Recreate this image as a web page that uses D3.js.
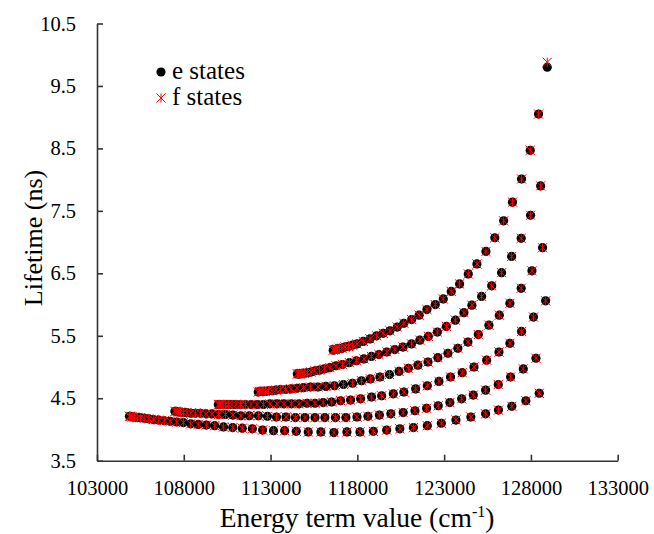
<!DOCTYPE html>
<html>
<head>
<meta charset="utf-8">
<script src="https://cdn.jsdelivr.net/npm/d3@7"></script>
<style>
    body { margin: 0; background: #fff; }
    svg { display: block; font-family: "Liberation Serif", "Times New Roman", Times, "DejaVu Serif", serif; }
</style>
</head>
<body>
<script>
// Data: energy term value (cm-1) and lifetime (ns), one pair of arrays per band
const band1Energy = [104870, 104940, 105030, 105160, 105320, 105510, 105720, 105980, 106250, 106550, 106880, 107220, 107590, 107980, 108400, 108830, 109300, 109780, 110290, 110820, 111370, 111950, 112540, 113170, 113810, 114480, 115170, 115900, 116650, 117400, 118150, 118920, 119690, 120450, 121230, 122030, 122840, 123680, 124540, 125390, 126130, 126900, 127710, 128480]
const band1Lifetime = [4.21, 4.21, 4.20, 4.20, 4.19, 4.19, 4.18, 4.17, 4.16, 4.15, 4.14, 4.13, 4.12, 4.11, 4.09, 4.08, 4.07, 4.06, 4.04, 4.03, 4.02, 4.01, 3.99, 3.98, 3.98, 3.97, 3.96, 3.96, 3.95, 3.96, 3.96, 3.97, 3.99, 4.01, 4.03, 4.06, 4.10, 4.15, 4.20, 4.25, 4.31, 4.37, 4.46, 4.58]

const band2Energy = [107490, 107560, 107670, 107810, 107980, 108180, 108410, 108670, 108960, 109280, 109620, 110000, 110400, 110830, 111290, 111780, 112300, 112820, 113340, 113890, 114430, 114980, 115560, 116130, 116740, 117340, 117980, 118610, 119270, 119930, 120640, 121320, 121990, 122660, 123330, 124010, 124680, 125390, 126120, 126830, 127560, 128290]
const band2Lifetime = [4.29, 4.29, 4.28, 4.28, 4.27, 4.27, 4.26, 4.26, 4.26, 4.25, 4.25, 4.24, 4.24, 4.23, 4.22, 4.22, 4.22, 4.21, 4.20, 4.20, 4.19, 4.19, 4.19, 4.19, 4.19, 4.19, 4.20, 4.21, 4.23, 4.25, 4.27, 4.30, 4.34, 4.38, 4.43, 4.49, 4.55, 4.63, 4.72, 4.84, 4.97, 5.14]

const band3Energy = [109990, 110060, 110140, 110260, 110400, 110570, 110780, 111010, 111270, 111550, 111870, 112220, 112590, 112960, 113370, 113770, 114200, 114640, 115100, 115560, 116030, 116520, 117040, 117610, 118190, 118820, 119400, 120070, 120680, 121360, 122030, 122700, 123370, 124040, 124720, 125450, 126160, 126790, 127460, 128150, 128850]
const band3Lifetime = [4.40, 4.40, 4.40, 4.40, 4.40, 4.40, 4.40, 4.40, 4.40, 4.40, 4.40, 4.40, 4.40, 4.41, 4.41, 4.41, 4.41, 4.41, 4.42, 4.42, 4.43, 4.44, 4.46, 4.47, 4.49, 4.52, 4.54, 4.57, 4.60, 4.65, 4.70, 4.77, 4.84, 4.91, 5.00, 5.11, 5.24, 5.38, 5.57, 5.80, 6.06]

const band4Energy = [112290, 112360, 112450, 112560, 112710, 112880, 113080, 113310, 113570, 113860, 114170, 114520, 114890, 115300, 115730, 116190, 116680, 117200, 117720, 118240, 118750, 119300, 119850, 120400, 120940, 121490, 122070, 122640, 123220, 123790, 124370, 124970, 125580, 126180, 126790, 127440, 128060, 128670]
const band4Lifetime = [4.60, 4.61, 4.61, 4.61, 4.61, 4.62, 4.62, 4.63, 4.64, 4.64, 4.65, 4.66, 4.67, 4.68, 4.68, 4.69, 4.70, 4.72, 4.74, 4.78, 4.81, 4.84, 4.88, 4.93, 4.98, 5.03, 5.08, 5.15, 5.22, 5.30, 5.40, 5.52, 5.67, 5.83, 6.02, 6.26, 6.54, 6.91]

const band5Energy = [114540, 114610, 114690, 114810, 114950, 115120, 115330, 115560, 115820, 116100, 116420, 116770, 117140, 117540, 117950, 118380, 118810, 119240, 119700, 120160, 120630, 121120, 121600, 122090, 122610, 123130, 123650, 124140, 124600, 125160, 125740, 126310, 126890, 127440, 127980, 128560]
const band5Lifetime = [4.89, 4.89, 4.89, 4.90, 4.90, 4.91, 4.92, 4.94, 4.95, 4.97, 4.99, 5.02, 5.04, 5.07, 5.10, 5.13, 5.17, 5.20, 5.24, 5.28, 5.32, 5.37, 5.43, 5.49, 5.56, 5.65, 5.75, 5.87, 5.99, 6.13, 6.30, 6.51, 6.77, 7.06, 7.43, 7.90]

const band6Energy = [116610, 116670, 116740, 116840, 116960, 117110, 117290, 117490, 117720, 117980, 118340, 118730, 119110, 119490, 119880, 120300, 120680, 121130, 121560, 122010, 122490, 122950, 123410, 123890, 124390, 124890, 125410, 125920, 126430, 126940, 127460, 127960, 128440, 128940]
const band6Lifetime = [5.27, 5.28, 5.28, 5.29, 5.30, 5.30, 5.32, 5.33, 5.35, 5.37, 5.41, 5.45, 5.50, 5.54, 5.58, 5.64, 5.70, 5.76, 5.83, 5.92, 6.00, 6.09, 6.21, 6.33, 6.49, 6.65, 6.85, 7.07, 7.34, 7.64, 8.01, 8.47, 9.05, 9.80]

// f states coincide with e states except these (band, index, lifetime)
const fStateDifferences = [[6, 33, 9.88]]

const xTicks = [103000, 108000, 113000, 118000, 123000, 128000, 133000]
const yTicks = [3.5, 4.5, 5.5, 6.5, 7.5, 8.5, 9.5, 10.5]
const legendLabels = ['e states', 'f states']

const bands = [
    [band1Energy, band1Lifetime],
    [band2Energy, band2Lifetime],
    [band3Energy, band3Lifetime],
    [band4Energy, band4Lifetime],
    [band5Energy, band5Lifetime],
    [band6Energy, band6Lifetime]
]
const eStates = bands.flatMap(([energies, lifetimes], b) =>
    energies.map((energy, i) => ({ band: b + 1, index: i, energy, lifetime: lifetimes[i] })))
const fStates = eStates.map(d => {
    const diff = fStateDifferences.find(([band, index]) => band === d.band && index === d.index)
    return diff ? { ...d, lifetime: diff[2] } : d
})

// SVG Node
const width = 654
const height = 534
const svg = d3.select('body').append('svg')
    .attr('width', width)
    .attr('height', height)

// Presentation
const serif = '"Liberation Serif", "Times New Roman", Times, "DejaVu Serif", serif'
const axisColor = '#333'
const plot = { left: 97, right: 617.7, top: 23.5, bottom: 460.7 }
const markerRadius = 4.6
const starSize = 4.6
const starPath = `M${-starSize},${-starSize}L${starSize},${starSize}M${-starSize},${starSize}L${starSize},${-starSize}M0,${-starSize}L0,${starSize}`

// Scale
const x = d3.scaleLinear()
    .domain([xTicks[0], xTicks[xTicks.length - 1]])
    .range([plot.left, plot.right])
const y = d3.scaleLinear()
    .domain([yTicks[0], yTicks[yTicks.length - 1]])
    .range([plot.bottom, plot.top])

// Axis
const xAxis = d3.axisBottom(x)
    .tickValues(xTicks)
    .tickFormat(d3.format('d'))
    .tickSizeInner(-6)
    .tickSizeOuter(0)
    .tickPadding(20)
const yAxis = d3.axisLeft(y)
    .tickValues(yTicks)
    .tickFormat(d3.format('.1f'))
    .tickSizeInner(-6)
    .tickSizeOuter(0)
    .tickPadding(21)

const styleAxis = g => {
    g.attr('font-family', serif).attr('font-size', 20.5)
    g.select('.domain').attr('stroke', axisColor).attr('stroke-width', 1.6)
    g.selectAll('.tick line').attr('stroke', axisColor).attr('stroke-width', 1.6)
    g.selectAll('.tick text').attr('fill', '#000')
}

svg.append('g')
    .attr('transform', `translate(0, ${plot.bottom})`)
    .call(xAxis)
    .call(styleAxis)
svg.append('g')
    .attr('transform', `translate(${plot.left}, 0)`)
    .call(yAxis)
    .call(styleAxis)

// Axis titles
const xTitle = svg.append('text')
    .attr('x', 357)
    .attr('y', 527)
    .attr('text-anchor', 'middle')
    .attr('font-family', serif)
    .attr('font-size', 27.5)
xTitle.append('tspan').text('Energy term value (cm')
xTitle.append('tspan').attr('dy', -10).attr('font-size', 16).text('-1')
xTitle.append('tspan').attr('dy', 10).text(')')

svg.append('text')
    .attr('transform', `translate(42, 238) rotate(-90)`)
    .attr('text-anchor', 'middle')
    .attr('font-family', serif)
    .attr('font-size', 26)
    .text('Lifetime (ns)')

// Points
svg.append('g')
    .selectAll('circle.e-state')
    .data(eStates)
    .enter()
    .append('circle')
    .classed('e-state', true)
    .attr('cx', d => x(d.energy))
    .attr('cy', d => y(d.lifetime))
    .attr('r', markerRadius)
    .attr('fill', '#000')

svg.append('g')
    .selectAll('path.f-state')
    .data(fStates)
    .enter()
    .append('path')
    .classed('f-state', true)
    .attr('transform', d => `translate(${x(d.energy)}, ${y(d.lifetime)})`)
    .attr('d', starPath)
    .attr('fill', 'none')
    .attr('stroke', '#ff0000')
    .attr('stroke-width', 1)

// Legend
const legend = svg.append('g')
    .attr('transform', 'translate(161, 72)')
legend.append('circle')
    .attr('r', markerRadius)
    .attr('fill', '#000')
legend.append('path')
    .attr('transform', 'translate(0, 26)')
    .attr('d', starPath)
    .attr('fill', 'none')
    .attr('stroke', '#ff0000')
    .attr('stroke-width', 1)
legend.selectAll('text')
    .data(legendLabels)
    .enter()
    .append('text')
    .attr('x', 11)
    .attr('y', (_, i) => 7 + i * 26)
    .attr('font-family', serif)
    .attr('font-size', 25)
    .text(d => d)
</script>
</body>
</html>
